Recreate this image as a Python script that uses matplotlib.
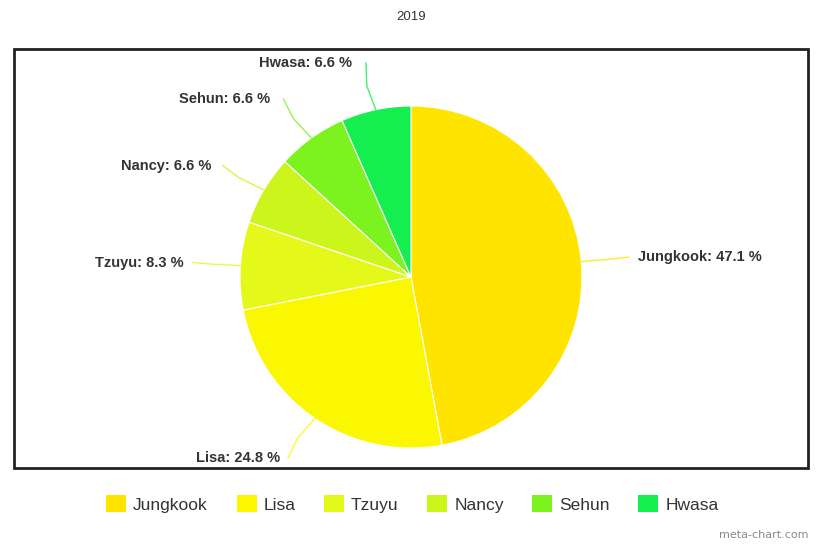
import numpy as np
import matplotlib.pyplot as plt
from matplotlib.patches import Rectangle, Patch

# data
names = ["Jungkook", "Lisa", "Tzuyu", "Nancy", "Sehun", "Hwasa"]
shares = [47.1, 24.8, 8.3, 6.6, 6.6, 6.6]
colors = ["#FFE400", "#FAF700", "#E4F81A", "#CCF51C", "#7CF21E", "#14EE4E"]
title = "2019"

W, H = 825, 547
fig = plt.figure(figsize=(W / 100, H / 100), dpi=100)
ax = fig.add_axes([0, 0, 1, 1])
ax.set_xlim(0, W)
ax.set_ylim(0, H)
ax.set_aspect("equal")
ax.axis("off")

cx, cy, r = 411, H - 277, 171

wedges, _ = ax.pie(shares, colors=colors, startangle=90, counterclock=False,
                   center=(cx, cy), radius=r,
                   wedgeprops=dict(edgecolor="white", linewidth=0.8))
ax.set_xlim(0, W)
ax.set_ylim(0, H)

# frame around plot area
ax.add_patch(Rectangle((14, H - 468), 794, 419, fill=False,
                       edgecolor="#222222", linewidth=2))

# labels with connectors
for w, name, val, col in zip(wedges, names, shares, colors):
    ang = np.deg2rad((w.theta1 + w.theta2) / 2)
    x0, y0 = cx + r * np.cos(ang), cy + r * np.sin(ang)
    x1, y1 = cx + (r + 48) * np.cos(ang), cy + (r + 48) * np.sin(ang)
    right = np.cos(ang) > 0
    gap = 8 + 6 * max(np.sin(ang), 0)
    ax.plot([x0, (x0 + x1) / 2 + (4 if right else -4), x1],
            [y0, (y0 + y1) / 2, y1], color=col, lw=1.0, alpha=0.8,
            solid_capstyle="round")
    ax.text(x1 + (gap if right else -gap), y1, f"{name}: {val} %",
            ha="left" if right else "right", va="center",
            fontsize=10.5, fontweight="bold", color="#333333",
            family="Liberation Sans")

fig.text(cx / W, 1 - 17 / H, title, ha="center", va="center",
         fontsize=9.5, color="#333333", family="Liberation Sans")

handles = [Patch(facecolor=c, edgecolor="none") for c in colors]
fig.legend(handles, names, loc="center", bbox_to_anchor=(0.5, 1 - 504 / H),
           ncol=6, frameon=False, handlelength=1.15,
           handleheight=1.15, handletextpad=0.4, columnspacing=1.65,
           prop={"family": "Liberation Sans", "size": 12.5})
for t in fig.legends[0].get_texts():
    t.set_color("#333333")

fig.text(1 - 17 / W, 1 - 535 / H, "meta-chart.com", ha="right", va="center",
         fontsize=8, color="#888888", family="DejaVu Sans")

fig.savefig("out.png", dpi=100, facecolor="white")
